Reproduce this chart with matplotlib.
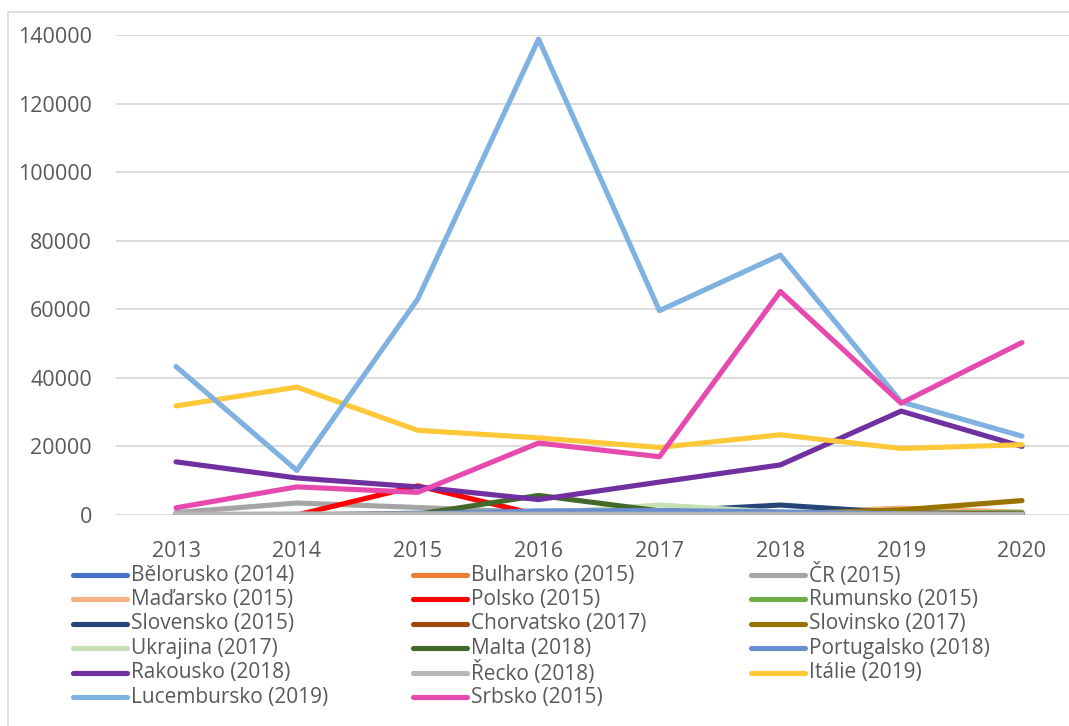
import matplotlib.pyplot as plt
import matplotlib.lines as mlines
import matplotlib.patches as mpatches

plt.rcParams['font.family'] = ['Open Sans', 'DejaVu Sans']

YEARS = ['2013', '2014', '2015', '2016', '2017', '2018', '2019', '2020']

LABELS = ['Bělorusko (2014)', 'Bulharsko (2015)', 'ČR (2015)',
          'Maďarsko (2015)', 'Polsko (2015)', 'Rumunsko (2015)',
          'Slovensko (2015)', 'Chorvatsko (2017)', 'Slovinsko (2017)',
          'Ukrajina (2017)', 'Malta (2018)', 'Portugalsko (2018)',
          'Rakousko (2018)', 'Řecko (2018)', 'Itálie (2019)',
          'Lucembursko (2019)', 'Srbsko (2015)']

belorusko = [0, 0, 0, 0, 0, 0, 0, 0]
bulharsko = [0, 0, 0, 0, 0, 200, 800, 300]
cr = [700, 3500, 2200, 700, 300, 200, 100, 0]
madarsko = [0, 0, 0, 200, 300, 500, 2000, 800]
polsko = [0, 0, 8500, 0, 0, 0, 0, 0]
rumunsko = [0, 0, 0, 0, 0, 300, 500, 800]
slovensko = [0, 0, 500, 800, 1000, 2900, 600, 300]
chorvatsko = [0, 0, 0, 0, 0, 200, 400, 300]
slovinsko = [0, 0, 0, 0, 0, 300, 1500, 4200]
ukrajina = [0, 0, 0, 500, 2900, 800, 300, 0]
malta = [0, 0, 200, 5700, 1200, 0, 0, 0]
portugalsko = [0, 0, 300, 1200, 1300, 900, 300, 0]
rakousko = [15500, 10800, 8200, 4500, 9600, 14600, 30300, 20000]
recko = [200, 300, 300, 200, 200, 200, 200, 200]
italie = [31800, 37300, 24700, 22500, 19700, 23400, 19400, 20500]
lucembursko = [43300, 13000, 63000, 138800, 59600, 75800, 33000, 23000]
srbsko = [2100, 8200, 6600, 21000, 17000, 65200, 32600, 50300]

SERIES = [belorusko, bulharsko, cr, madarsko, polsko, rumunsko, slovensko,
          chorvatsko, slovinsko, ukrajina, malta, portugalsko, rakousko,
          recko, italie, lucembursko, srbsko]

COLORS = ['#4472C4', '#ED7D31', '#A5A5A5', '#F4B183', '#FF0000', '#70AD47',
          '#264478', '#9E480E', '#997300', '#C5E0B4', '#43682B', '#698ED0',
          '#7030A0', '#B7B7B7', '#FFC839', '#7FB2E0', '#E64AAF']

W, H = 1069, 726
TXT = '#595959'

fig = plt.figure(figsize=(W / 100, H / 100), dpi=100)
ax = fig.add_axes([115.6 / W, (H - 515) / H, 966.8 / W, 480 / H])

x = list(range(len(YEARS)))
for vals, color in zip(SERIES, COLORS):
    ax.plot(x, vals, color=color, linewidth=3.7, solid_capstyle='round',
            solid_joinstyle='round')

ax.set_xlim(-0.5, 7.5)
ax.set_ylim(0, 140000)
ax.set_yticks(range(0, 140001, 20000))
ax.set_xticks(x)
ax.set_xticklabels(YEARS)
ax.tick_params(axis='both', length=0, colors=TXT)
ax.tick_params(axis='y', labelsize=15.5, pad=17)
ax.tick_params(axis='x', labelsize=15.5, pad=19)
ax.grid(axis='y', color='#D9D9D9', linewidth=1.3)
ax.set_axisbelow(True)
for s in ax.spines.values():
    s.set_visible(False)

# frame around the chart
fig.add_artist(mpatches.Rectangle((8 / W, -0.05), 1.2, 1 - 12 / H + 0.05,
                                  transform=fig.transFigure, fill=False,
                                  edgecolor='#D9D9D9', linewidth=1.2))

# legend, three columns, row-major like the original
col_x = [73, 413, 751]
row_y = 575
row_step = 24.4
for i, (label, color) in enumerate(zip(LABELS, COLORS)):
    r, c = divmod(i, 3)
    yy = 1 - (row_y + r * row_step) / H
    x0 = col_x[c]
    fig.add_artist(mlines.Line2D([x0 / W, (x0 + 54) / W], [yy, yy],
                                 transform=fig.transFigure, color=color,
                                 linewidth=3.7, solid_capstyle='round'))
    fig.text((x0 + 58) / W, yy, label, fontsize=15, color=TXT,
             va='center', ha='left')

plt.savefig('out.png', dpi=100)
